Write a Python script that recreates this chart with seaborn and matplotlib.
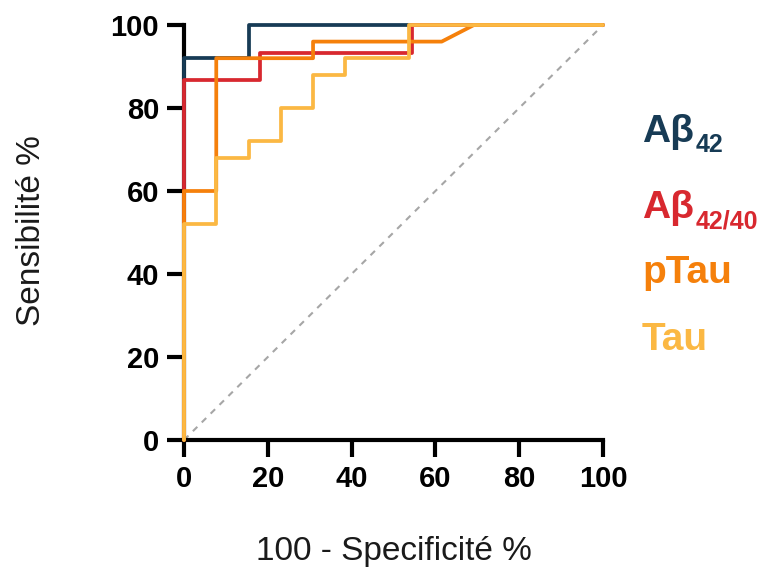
import matplotlib
matplotlib.use("Agg")
import matplotlib.pyplot as plt
import seaborn as sns
import pandas as pd

# ROC curves: x = 100 - specificity (%), y = sensitivity (%)
ab42_x = [0, 0, 15.4, 15.4, 100]
ab42_y = [0, 92, 92, 100, 100]

ab4240_x = [0, 0, 18.2, 18.2, 54.5, 54.5, 100]
ab4240_y = [0, 86.7, 86.7, 93.3, 93.3, 100, 100]

ptau_x = [0, 0, 7.7, 7.7, 30.8, 30.8, 61.5, 69.2, 100]
ptau_y = [0, 60, 60, 92, 92, 96, 96, 100, 100]

tau_x = [0, 0, 7.7, 7.7, 15.4, 15.4, 23.1, 23.1, 30.8, 30.8, 38.5, 38.5, 53.8, 53.8, 100]
tau_y = [0, 52, 52, 68, 68, 72, 72, 80, 80, 88, 88, 92, 92, 100, 100]

ref_x = [0, 100]
ref_y = [0, 100]

xticks = [0, 20, 40, 60, 80, 100]
yticks = [0, 20, 40, 60, 80, 100]

colors = {"Ab42": "#173b55", "Ab4240": "#d8282f", "pTau": "#f5800b", "Tau": "#fbb843"}

sns.set_theme(style="white")
plt.rcParams["font.family"] = ["Liberation Sans", "DejaVu Sans"]

fig = plt.figure(figsize=(7.73, 5.71), dpi=100)
ax = fig.add_axes([184 / 773, 1 - 440 / 571, (603 - 184) / 773, (440 - 25) / 571])

sns.lineplot(x=ref_x, y=ref_y, ax=ax, color="#a6a6a6", lw=1.5,
             linestyle=(0, (3, 3)), sort=False, estimator=None)

for key, xs, ys in [("Ab42", ab42_x, ab42_y), ("Ab4240", ab4240_x, ab4240_y),
                    ("pTau", ptau_x, ptau_y), ("Tau", tau_x, tau_y)]:
    df = pd.DataFrame({"x": xs, "y": ys})
    sns.lineplot(data=df, x="x", y="y", ax=ax, color=colors[key], lw=2.7,
                 sort=False, estimator=None, clip_on=False, zorder=3)

ax.set_xlim(0, 100)
ax.set_ylim(0, 100)
ax.set_xticks(xticks)
ax.set_yticks(yticks)
ax.set_xticklabels([str(v) for v in xticks], fontsize=21, fontweight="bold", color="black")
ax.set_yticklabels([str(v) for v in yticks], fontsize=21, fontweight="bold", color="black")
for s in ["top", "right"]:
    ax.spines[s].set_visible(False)
for s in ["left", "bottom"]:
    ax.spines[s].set_linewidth(3)
    ax.spines[s].set_color("black")
    ax.spines[s].set_zorder(2)
ax.tick_params(axis="both", direction="out", length=12, width=3, color="black",
               pad=6, left=True, bottom=True)

ax.set_xlabel("100 - Specificité %", fontsize=24, color="#1a1a1a")
ax.set_ylabel("Sensibilité %", fontsize=24, color="#1a1a1a")
ax.xaxis.set_label_coords(0.5, -0.232)
ax.yaxis.set_label_coords(-0.328, 0.505)

# legend-like labels
def legend_label(main, sub, y_base, color):
    t = fig.text(642 / 773, 1 - y_base / 571, main, fontsize=28, fontweight="bold",
                 color=color, va="baseline", ha="left")
    if sub:
        ax.annotate(sub, xy=(1, 0), xycoords=t, xytext=(1.5, -1.5), textcoords="offset points",
                    fontsize=18, fontweight="bold", color=color, va="baseline", ha="left",
                    annotation_clip=False)

legend_label("Aβ", "42", 142, colors["Ab42"])
legend_label("Aβ", "42/40", 218, colors["Ab4240"])
legend_label("pTau", None, 283, colors["pTau"])
legend_label("Tau", None, 350, colors["Tau"])

fig.savefig("out.png", dpi=100, facecolor="white")
